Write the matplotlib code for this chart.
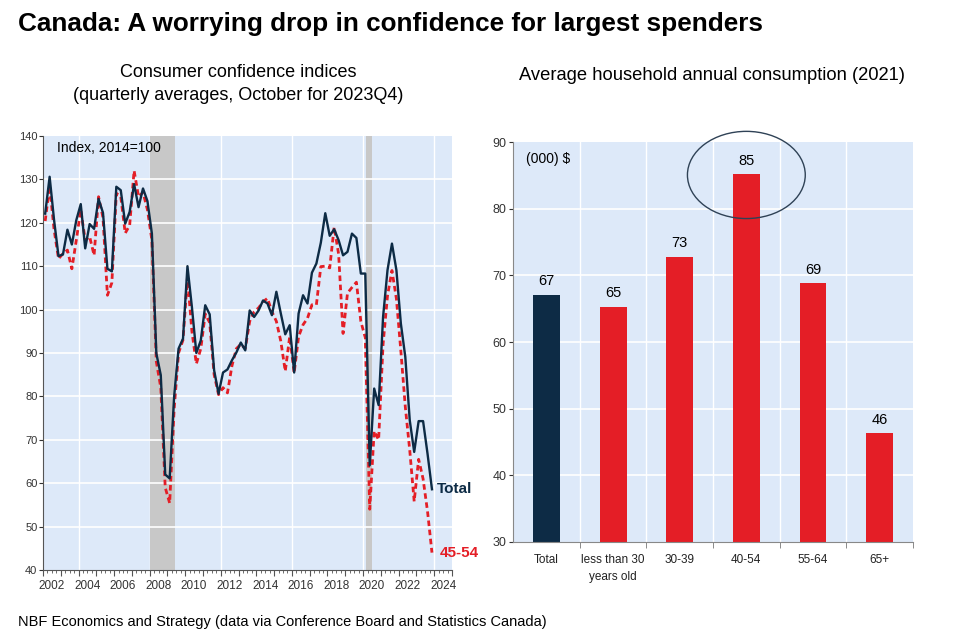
import numpy as np
import matplotlib.pyplot as plt
import matplotlib.patches as patches

plt.rcParams['font.family'] = ['Liberation Sans', 'DejaVu Sans']
NARROW = ['Liberation Sans Narrow', 'Liberation Sans', 'DejaVu Sans']

# consumer confidence, quarterly 2002Q1 .. 2023Q4 (index 2014=100)
total_index = [
    122.1, 130.6, 120.6, 112.3, 112.7, 118.4, 115.0, 120.6,
    124.3, 114.1, 119.7, 118.6, 125.5, 122.3, 109.4, 108.8,
    128.3, 127.5, 119.8, 122.5, 128.9, 123.6, 127.9, 125.0,
    117.5, 89.9, 84.9, 62.0, 61.1, 79.9, 91.0, 93.3,
    110.0, 100.6, 90.0, 92.9, 101.0, 98.9, 86.0, 80.6,
    85.5, 86.2, 88.3, 90.1, 92.4, 90.6, 99.8, 98.3,
    99.8, 102.1, 101.4, 98.7, 104.1, 99.1, 94.3, 96.4,
    85.5, 99.1, 103.3, 101.4, 108.5, 110.6, 115.4, 122.2,
    117.0, 118.5, 116.0, 112.5, 113.3, 117.5, 116.5, 108.3,
    108.3, 64.1, 81.8, 78.0, 98.3, 109.1, 115.2, 109.1,
    96.8, 89.1, 74.5, 67.2, 74.3, 74.3, 66.8, 58.6,
]
age_45_54 = [
    120.4, 128.5, 118.4, 111.7, 112.9, 113.7, 109.4, 116.0,
    123.0, 116.0, 116.8, 112.5, 126.0, 121.2, 103.3, 106.2,
    126.8, 126.0, 117.6, 119.4, 132.0, 126.0, 127.0, 123.0,
    116.0, 88.0, 82.0, 59.0, 55.4, 77.0, 90.0, 93.0,
    107.5, 95.0, 87.5, 91.0, 99.0, 97.0, 85.0, 80.4,
    82.0, 80.8, 87.0, 91.0, 92.0, 91.0, 97.3, 99.5,
    100.4, 101.8, 102.6, 99.5, 97.3, 92.7, 85.8, 93.8,
    85.4, 93.8, 96.5, 98.0, 101.1, 101.1, 109.9, 110.0,
    109.6, 119.0, 112.8, 94.5, 103.8, 105.1, 106.3, 97.3,
    93.5, 54.0, 72.0, 70.0, 92.0, 103.2, 109.0, 102.5,
    90.5, 77.6, 67.6, 55.8, 65.5, 61.0, 53.5, 44.0,
]
first_year = 2002
recessions = [(2008.0, 2009.45), (2020.17, 2020.5)]

# average household annual consumption 2021, thousands of $
groups = ['Total', 'less than 30\nyears old', '30-39', '40-54', '55-64', '65+']
consumption = [67.1, 65.3, 72.8, 85.2, 68.8, 46.3]

BG = '#dde9f9'
NAVY = '#0d2b45'
RED = '#e41e26'
SHADE = '#c8c8c8'

fig = plt.figure(figsize=(9.59, 6.38), dpi=100)

fig.text(0.019, 0.963, 'Canada: A worrying drop in confidence for largest spenders',
         fontsize=18.8, fontweight='bold', va='center', ha='left')
fig.text(0.248, 0.886, 'Consumer confidence indices', fontsize=13, ha='center', va='center')
fig.text(0.248, 0.851, '(quarterly averages, October for 2023Q4)', fontsize=13, ha='center', va='center')
fig.text(0.7425, 0.882, 'Average household annual consumption (2021)', fontsize=13.2,
         ha='center', va='center')
fig.text(0.019, 0.025, 'NBF Economics and Strategy (data via Conference Board and Statistics Canada)',
         fontsize=10.5, ha='left', va='center')

# ---- left chart: confidence indices
ax1 = fig.add_axes([0.0448, 0.1066, 0.4265, 0.6803])
ax1.set_facecolor(BG)
t = first_year + 0.125 + 0.25 * np.arange(len(total_index))

for start, end in recessions:
    ax1.axvspan(start, end, color=SHADE, lw=0, zorder=1)
for y in range(50, 140, 10):
    ax1.axhline(y, color='white', lw=1.2, zorder=1.5)
for yr in range(2004, 2025, 4):
    ax1.axvline(yr, color='white', lw=1, zorder=0.8)

ax1.plot(t, age_45_54, color=RED, lw=2, linestyle=(0, (2, 1.3)), zorder=3)
ax1.plot(t, total_index, color=NAVY, lw=1.7, zorder=4)

ax1.set_xlim(2002, 2025)
ax1.set_ylim(40, 140)
ax1.set_yticks(range(40, 141, 10))
ax1.set_xticks(range(2002, 2026))
ax1.set_xticks(np.arange(2002, 2025, 0.25), minor=True)
ax1.set_xticklabels([])
ax1.tick_params(axis='y', length=3, pad=1, labelsize=8, labelfontfamily=NARROW, colors='#333333')
ax1.tick_params(axis='x', which='major', length=4, color='#555555')
ax1.tick_params(axis='x', which='minor', length=2, color='#555555')
for yr in range(2002, 2025, 2):
    ax1.text(yr + 0.5, -0.024, str(yr), transform=ax1.get_xaxis_transform(),
             ha='center', va='top', fontsize=8.5, family=NARROW, color='#333333')
for side in ['top', 'right']:
    ax1.spines[side].set_visible(False)
for side in ['left', 'bottom']:
    ax1.spines[side].set_color('#555555')

ax1.text(0.034, 0.988, 'Index, 2014=100', transform=ax1.transAxes, fontsize=10, va='top')
ax1.text(2024.15, total_index[-1], 'Total', color=NAVY, fontsize=11, fontweight='bold',
         va='center', ha='left', clip_on=False, zorder=5)
ax1.text(2024.3, age_45_54[-1], '45-54', color=RED, fontsize=11, fontweight='bold',
         va='center', ha='left', clip_on=False, zorder=5)

# ---- right chart: consumption by age
ax2 = fig.add_axes([0.5353, 0.1509, 0.4165, 0.6260])
ax2.set_facecolor(BG)
x = np.arange(len(groups))
for y in range(40, 90, 10):
    ax2.axhline(y, color='white', lw=1.2, zorder=0.5)
for b in np.arange(0.5, len(groups) - 0.5, 1):
    ax2.axvline(b, color='white', lw=1, zorder=0.5)

bar_colors = [NAVY] + [RED] * (len(groups) - 1)
ax2.bar(x, consumption, width=0.4, color=bar_colors, zorder=2)
for xi, v in zip(x, consumption):
    ax2.text(xi, v + 1.0, f'{v:.0f}', ha='center', va='bottom', fontsize=10.5, family=NARROW)

ax2.add_patch(patches.Ellipse((3, 85.1), width=1.77, height=13.1, fill=False,
                              edgecolor='#2f4256', lw=1, clip_on=False, zorder=5))

ax2.set_xlim(-0.5, len(groups) - 0.5)
ax2.set_ylim(30, 90)
ax2.set_yticks(range(30, 91, 10))
ax2.set_xticks(x)
ax2.set_xticklabels(groups, fontsize=8.5, family=NARROW, linespacing=1.5)
ax2.set_xticks(np.arange(0.5, len(groups), 1), minor=True)
ax2.tick_params(axis='x', which='major', length=0, pad=9, colors='#222222')
ax2.tick_params(axis='x', which='minor', length=4, color='#777777')
ax2.tick_params(axis='y', length=3, pad=2, labelsize=9, labelfontfamily=NARROW, colors='#333333')
for side in ['top', 'right']:
    ax2.spines[side].set_visible(False)
for side in ['left', 'bottom']:
    ax2.spines[side].set_color('#888888')

ax2.text(0.031, 0.976, '(000) $', transform=ax2.transAxes, fontsize=10, va='top')

fig.savefig('out.png', dpi=100)
